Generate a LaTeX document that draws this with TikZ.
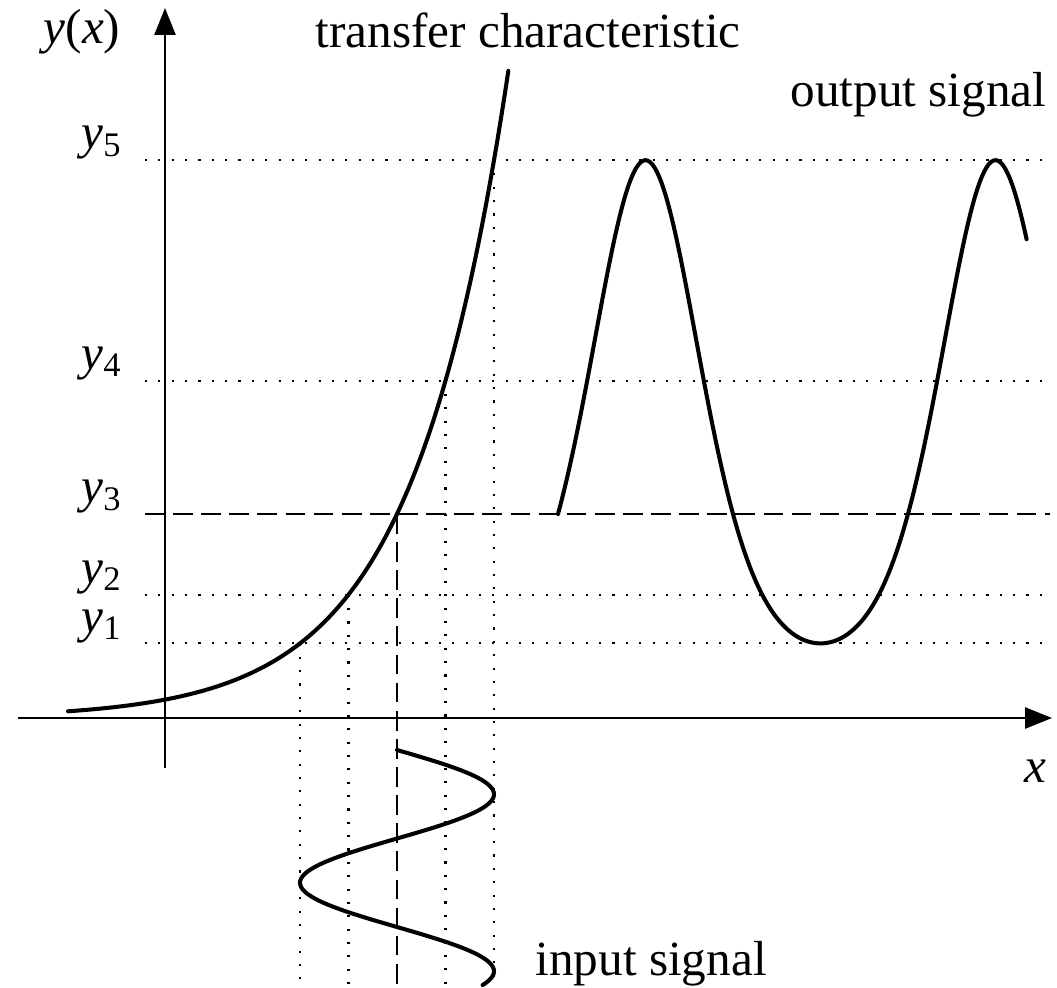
\documentclass[tikz,border=0pt]{standalone}
\usepackage{fontspec}
\setmainfont{Liberation Serif}
\usepackage{tikz}
\usetikzlibrary{arrows.meta}

\begin{document}
\begin{tikzpicture}[
  every node/.style={font=\fontsize{14}{16}\selectfont, inner sep=0pt},
  axis/.style={line width=0.75pt, -{Triangle[length=2.7mm, width=2.1mm]}},
  curve/.style={line width=1.15pt, line cap=round},
  level/.style={line width=0.6pt, dash pattern=on 0.6pt off 3.2pt},
  mid/.style={line width=0.75pt, dash pattern=on 5.6pt off 2.4pt},
  declare function={tc(\x)=2.04*exp(1.037*(\x-2.32));},
]
  \useasboundingbox (-1.65,-2.69) rectangle (8.92,7.18);

  % Level lines y1 ... y5
  \foreach \lev/\xs/\i in {0.746/1.35/1, 1.233/1.835/2, 3.374/2.805/4, 5.58/3.29/5} {
    \draw[level] (-0.2,\lev) -- (8.85,\lev);
    \draw[level] (\xs,\lev) -- (\xs,-2.69);
    \node[anchor=south east] (ylab\i) at (-0.42,\lev) {\textit{y}\textsubscript{\i}};
  }
  \draw[mid] (-0.2,2.04) -- (8.85,2.04);
  \draw[mid] (2.32,2.04) -- (2.32,-2.69);
  \node[anchor=south east] (ylab3) at (-0.42,2.04) {\textit{y}\textsubscript{3}};

  % Axes
  \draw[axis] (-1.47,0) -- (8.87,0);
  \draw[axis] (0,-0.50) -- (0,7.10);
  \node (xlab) at (8.70,-0.53) {\textit{x}};
  \node (yxlab) at (-0.83,6.86) {\textit{y}(\textit{x})};

  % Transfer characteristic
  \draw[curve] plot[domain=-0.97:3.434, samples=120] (\x,{tc(\x)});
  \node[anchor=base west] (tclab) at (1.50,6.70) {transfer characteristic};

  % Input signal
  \draw[curve] plot[domain=0:478, samples=150, variable=\t]
    ({2.32+0.97*sin(\t)},{-0.32-\t/360*1.77});
  \node[anchor=base west] (inlab) at (3.70,-2.57) {input signal};

  % Output signal
  \draw[curve] plot[domain=0:482, samples=200, variable=\t]
    ({3.93+\t/360*3.5},{2.04*exp(1.006*sin(\t))});
  \node[anchor=base east] (outlab) at (8.82,6.11) {output signal};
\end{tikzpicture}
\end{document}
